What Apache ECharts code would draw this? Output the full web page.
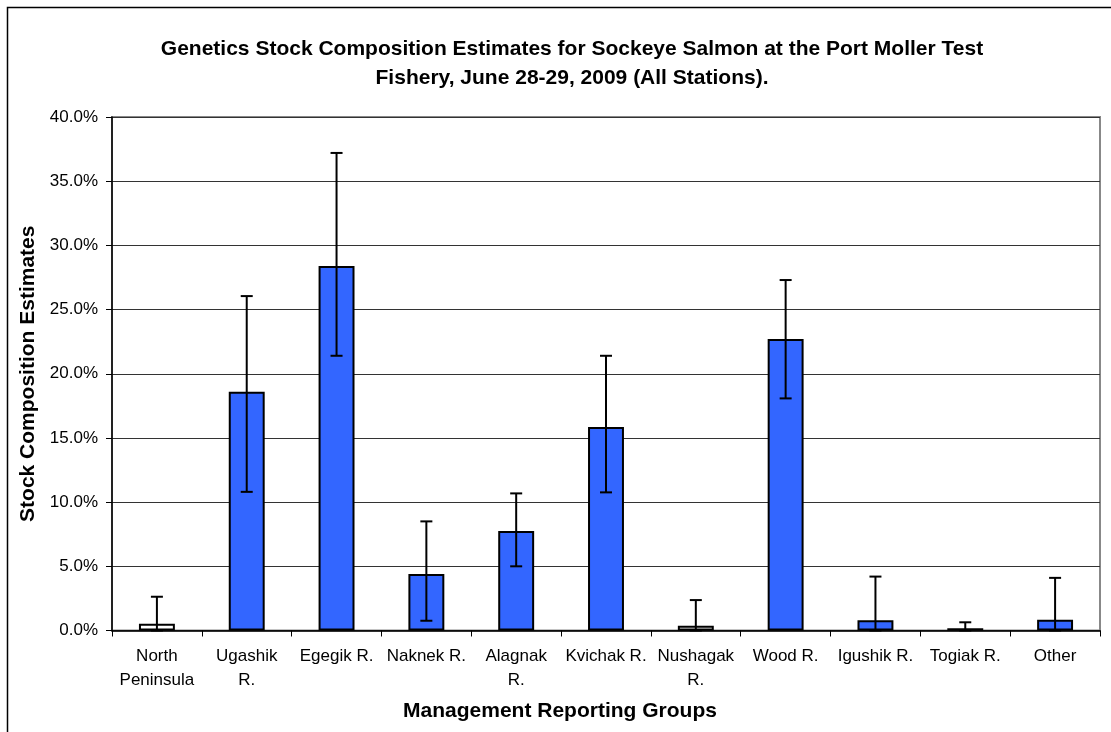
<!DOCTYPE html>
<html>
<head>
<meta charset="utf-8">
<script src="https://cdn.jsdelivr.net/npm/echarts@6/dist/echarts.min.js"></script>
<style>html,body{margin:0;padding:0;background:#fff}#c{width:1111px;height:732px}</style>
</head>
<body>
<div id="c"></div>
<script>
const categories = ["North\nPeninsula", "Ugashik\nR.", "Egegik R.", "Naknek R.", "Alagnak\nR.", "Kvichak R.", "Nushagak\nR.", "Wood R.", "Igushik R.", "Togiak R.", "Other"];
const estimates = [0.53, 18.6, 28.4, 4.4, 7.75, 15.85, 0.37, 22.7, 0.8, 0.17, 0.84];
const lowerCI = [0.0, 10.8, 21.4, 0.76, 5.0, 10.76, 0.0, 18.08, 0.0, 0.0, 0.0];
const upperCI = [2.63, 26.05, 37.2, 8.5, 10.68, 21.4, 2.37, 27.3, 4.2, 0.64, 4.1];
const whiteBars = [true, false, false, false, false, false, true, false, false, true, false];

const chart = echarts.init(document.getElementById('c'));
const font = 'Liberation Sans, Arial, sans-serif';
chart.setOption({
  animation: false,
  backgroundColor: '#fff',
  graphic: [{
    type: 'rect', shape: {x: 7.5, y: 7.5, width: 1200, height: 800},
    style: {fill: 'none', stroke: '#000', lineWidth: 1.5}, z: -1
  }, {
    type: 'text', x: 560, y: 711, z: 10,
    style: {text: 'Management Reporting Groups', align: 'center', verticalAlign: 'middle',
      font: 'bold 21px ' + font, fill: '#000'}
  }],
  title: {
    text: 'Genetics Stock Composition Estimates for Sockeye Salmon at the Port Moller Test\nFishery, June 28-29, 2009 (All Stations).',
    left: 567, top: 30, textAlign: 'center',
    textStyle: {fontFamily: font, fontSize: 21, fontWeight: 'bold', color: '#000', lineHeight: 29}
  },
  grid: {left: 112, right: 11, top: 117, bottom: 101.5, show: true, borderColor: '#888', borderWidth: 2, backgroundColor: '#fff'},
  xAxis: {
    type: 'category', data: categories,
    axisLine: {lineStyle: {color: '#000', width: 1.5}},
    axisTick: {show: true, alignWithLabel: false, length: 6, lineStyle: {color: '#000'}},
    axisLabel: {interval: 0, fontFamily: font, fontSize: 17, color: '#000', margin: 14, lineHeight: 24}
  },
  yAxis: {
    type: 'value', min: 0, max: 40, interval: 5,
    name: 'Stock Composition Estimates', nameLocation: 'middle', nameGap: 63,
    nameTextStyle: {fontFamily: font, fontSize: 21, fontWeight: 'bold', color: '#000'},
    axisLine: {show: true, lineStyle: {color: '#000', width: 1.5}},
    axisTick: {show: true, length: 6, lineStyle: {color: '#000'}},
    axisLabel: {fontFamily: font, fontSize: 17, color: '#000', margin: 14, formatter: v => v.toFixed(1) + '%'},
    splitLine: {lineStyle: {color: '#333', width: 1}}
  },
  series: [{
    type: 'bar', barWidth: '40%',
    data: estimates.map((v, i) => ({value: v, itemStyle: {color: whiteBars[i] ? '#fff' : '#3366ff'}})),
    itemStyle: {borderColor: '#000', borderWidth: 2},
    z: 2
  }, {
    type: 'custom',
    data: estimates.map((v, i) => [i, lowerCI[i], upperCI[i]]),
    renderItem: function (params, api) {
      const x = api.value(0);
      const lo = api.coord([x, api.value(1)]);
      const hi = api.coord([x, api.value(2)]);
      const hw = 6;
      const st = {stroke: '#000', lineWidth: 2};
      return {type: 'group', children: [
        {type: 'line', shape: {x1: hi[0], y1: hi[1], x2: lo[0], y2: lo[1]}, style: st},
        {type: 'line', shape: {x1: hi[0] - hw, y1: hi[1], x2: hi[0] + hw, y2: hi[1]}, style: st},
        {type: 'line', shape: {x1: lo[0] - hw, y1: lo[1], x2: lo[0] + hw, y2: lo[1]}, style: st}
      ]};
    },
    z: 3
  }]
});
</script>
</body>
</html>
